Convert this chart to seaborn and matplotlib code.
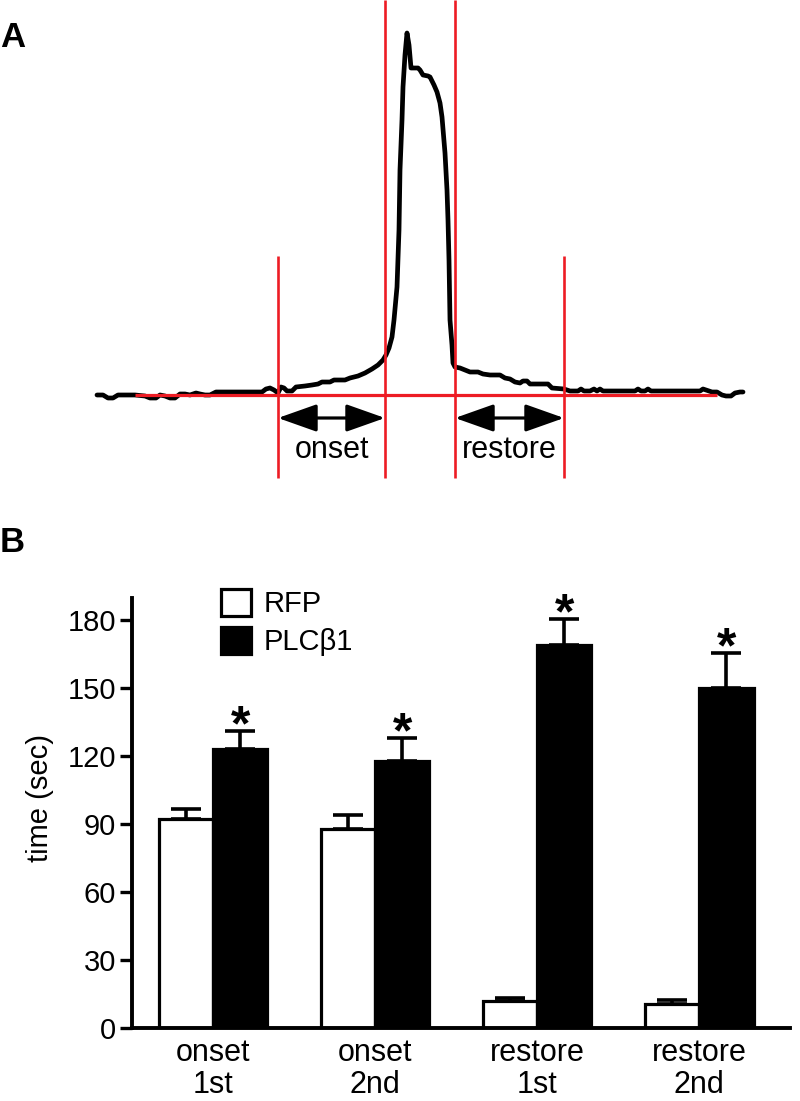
import numpy as np
import pandas as pd
import matplotlib
matplotlib.use('Agg')
import matplotlib.pyplot as plt
import seaborn as sns
from matplotlib.patches import FancyArrowPatch

# ---- panel A: example calcium trace (time in a.u., signal in a.u.) ----
trace_t = [0, 6, 11, 16, 21, 38, 48, 53, 59, 63, 68, 73, 78, 83, 88, 93, 99, 103, 108, 113,
           119, 143, 165, 169, 173, 177, 181, 184, 187, 190, 195, 199, 208, 215, 221, 225,
           233, 237, 248, 253, 261, 268, 275, 281, 286, 289, 292, 295, 297, 300, 302, 303,
           305, 306, 308, 310, 312, 314, 317, 321, 323, 326, 331, 333, 337, 340, 343, 345,
           348, 350, 351, 352, 353, 355, 356, 358, 363, 368, 373, 381, 386, 393, 403, 408,
           413, 418, 423, 426, 430, 433, 451, 455, 467, 473, 481, 484, 487, 493, 497, 500,
           503, 506, 538, 541, 544, 548, 551, 554, 603, 606, 609, 615, 620, 625, 629, 634,
           638, 643, 646]
trace_v = [0, 0, -3, -3, 0, 0, -1, -3, -3, 0, -1, -3, -3, 1, 1, 0, 2, 1, 0, 0,
           3, 3, 3, 6, 7, 5, 2, 8, 7, 4, 4, 8, 9, 10, 11, 13,
           13, 15, 15, 17, 19, 22, 26, 30, 35, 40, 47, 58, 75, 108, 165, 225,
           275, 308, 340, 362, 350, 327, 327, 327, 325, 320, 319, 318, 310, 303, 292, 278,
           242, 205, 175, 135, 75, 50, 32, 28, 27, 25, 23, 23, 21, 20, 20, 17,
           16, 13, 12, 14, 14, 11, 11, 7, 6, 4, 4, 6, 4, 4, 6, 4,
           6, 4, 4, 6, 4, 4, 6, 4, 4, 6, 5, 3, 3, 0, -1, -1,
           2, 3, 3]

# red marker lines: inner = peak start/end, outer = onset start / restore end
inner_marks = [288, 358]
outer_marks = [181, 467]
mark_top_inner = 395
mark_top_outer = 139
mark_bottom = -83
base_start, base_end = 38, 620
arrow_level = -23
label_level = -63
onset_span = [181, 288]
restore_span = [358, 467]

# ---- panel B: mean time (sec) with SEM ----
conditions = ['onset\n1st', 'onset\n2nd', 'restore\n1st', 'restore\n2nd']
groups = ['RFP', 'PLCβ1']
rfp_mean = [92, 88, 12, 10.5]
rfp_sem = [4.5, 6, 1.2, 1.7]
plc_mean = [123, 118, 169, 150]
plc_sem = [8, 10, 11.5, 15.5]

sns.set_theme(style='white')
plt.rcParams['font.family'] = ['Liberation Sans', 'DejaVu Sans']
# pure black text, like the original figure
for key in ['text.color', 'axes.labelcolor', 'xtick.color', 'ytick.color',
            'axes.edgecolor']:
    plt.rcParams[key] = 'black'

fig = plt.figure(figsize=(8, 11.01), dpi=100)
H = 1101.0
RED = '#ed1c24'

# panel A axes covers the top of the figure
axA = fig.add_axes([0, 1 - 490 / H, 1, 490 / H])
axA.set_xlim(-97, 703)
axA.set_ylim(-95, 395)
axA.axis('off')

sns.lineplot(x=trace_t, y=trace_v, ax=axA, color='black', linewidth=3.4,
             sort=False, errorbar=None, zorder=2)
axA.vlines(inner_marks, mark_bottom, mark_top_inner, color=RED, linewidth=1.9, zorder=3)
axA.vlines(outer_marks, mark_bottom, mark_top_outer, color=RED, linewidth=1.9, zorder=3)
axA.hlines(0, base_start, base_end, color=RED, linewidth=2.3, zorder=3)

for span, lab in [(onset_span, 'onset'), (restore_span, 'restore')]:
    arr = FancyArrowPatch((span[0], arrow_level), (span[1], arrow_level),
                          arrowstyle='<|-|>,head_length=2.4,head_width=0.85',
                          mutation_scale=10, color='black', linewidth=2.3,
                          shrinkA=0, shrinkB=0)
    axA.add_patch(arr)
    axA.text(sum(span) / 2, label_level, lab, ha='center', va='baseline', fontsize=22)

# panel B
axB = fig.add_axes([132 / 800, 1 - 1028 / H, (790 - 132) / 800, (1028 - 598) / H])

df = pd.DataFrame({
    'condition': conditions * 2,
    'group': [groups[0]] * 4 + [groups[1]] * 4,
    'time': rfp_mean + plc_mean,
})
sns.barplot(data=df, x='condition', y='time', hue='group', order=conditions,
            hue_order=groups, palette={'RFP': 'white', 'PLCβ1': 'black'},
            edgecolor='black', linewidth=2.3, width=0.67, errorbar=None,
            saturation=1, ax=axB)

# error bars (upper half only) + significance stars
for cont, means, sems, star in zip(axB.containers, [rfp_mean, plc_mean],
                                   [rfp_sem, plc_sem], [False, True]):
    xs = [p.get_x() + p.get_width() / 2 for p in cont.patches]
    axB.errorbar(xs, means, yerr=[np.zeros(len(sems)), sems], fmt='none',
                 ecolor='black', elinewidth=2.6, capsize=10.8, capthick=2.6, zorder=5)
    if star:
        for x, m, s in zip(xs, means, sems):
            axB.annotate('*', xy=(x, m + s), xytext=(0, -7), textcoords='offset points',
                         ha='center', va='baseline', fontsize=36, fontweight='bold',
                         color='black')

axB.set_xlim(-0.5, 3.56)
axB.set_ylim(0, 189.7)
axB.set_yticks([0, 30, 60, 90, 120, 150, 180])
axB.set_xlabel('')
axB.set_ylabel('time (sec)', fontsize=21, va='center', color='black')
axB.yaxis.set_label_coords(-0.14, 0.535)
axB.tick_params(axis='y', length=8.6, width=2.4, labelsize=21, pad=3, left=True,
                colors='black')
axB.tick_params(axis='x', length=0, labelsize=22, pad=7, colors='black')
for lab in axB.get_xticklabels():
    lab.set_linespacing(1.1)
sns.despine(ax=axB)
for sp in ['left', 'bottom']:
    axB.spines[sp].set_linewidth(2.8)
    axB.spines[sp].set_color('black')

leg = axB.legend(loc='upper left', bbox_to_anchor=(221 / 800, 1 - 589 / H),
                 bbox_transform=fig.transFigure, frameon=False, fontsize=21,
                 borderpad=0, borderaxespad=0, handlelength=1.03, handleheight=1.03,
                 handletextpad=0.42, labelspacing=0.3)
for t in leg.get_texts():
    t.set_color('black')

# panel letters
fig.text(0.0, 1 - 47 / H, 'A', fontsize=25, fontweight='bold', ha='left', va='baseline',
         color='black')
fig.text(0.0, 1 - 552 / H, 'B', fontsize=25, fontweight='bold', ha='left', va='baseline',
         color='black')

plt.savefig('out.png', dpi=100)
plt.close()
